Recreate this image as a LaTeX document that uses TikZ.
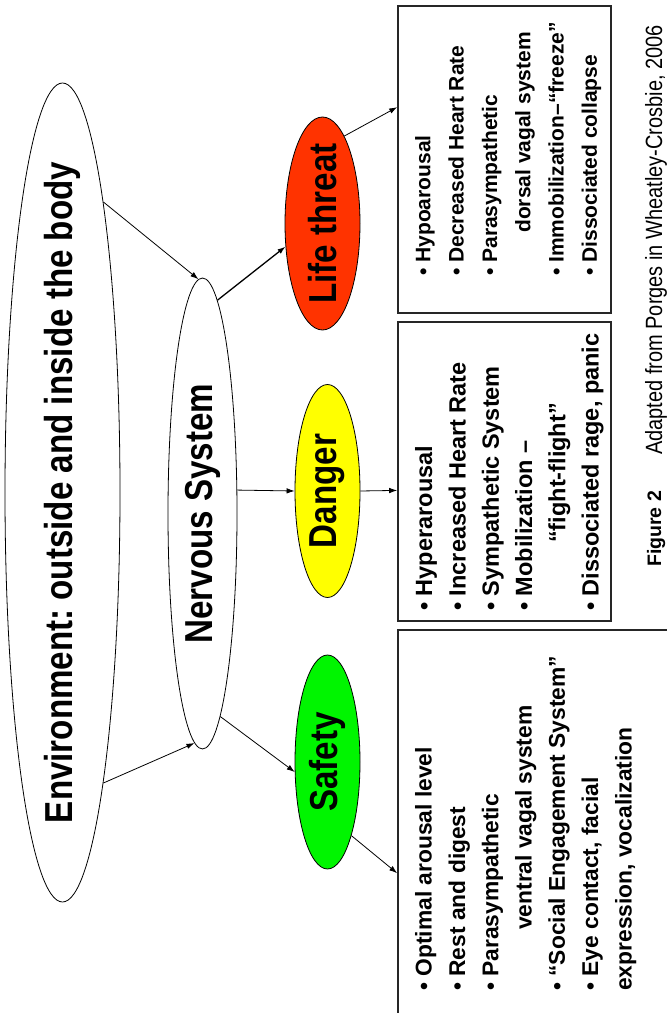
\documentclass[tikz,border=0pt]{standalone}
\usepackage{fontspec}
\setmainfont{Liberation Sans}
\newfontfamily\narrowfont{Liberation Sans}[FakeStretch=0.85]
\usetikzlibrary{shapes.geometric,arrows.meta}
\frenchspacing

\definecolor{threatred}{RGB}{255,51,0}
\definecolor{dangeryellow}{RGB}{255,255,0}
\definecolor{safegreen}{RGB}{0,245,0}

\tikzset{
  blob/.style={ellipse, draw, line width=0.8pt, inner xsep=-80pt, inner ysep=0pt,
    font=\narrowfont\bfseries\fontsize{39}{40}\selectfont},
  panel/.style={rectangle, draw=black!85, line width=1.6pt},
  list/.style={anchor=north west, inner sep=0pt, align=left,
    font=\bfseries\fontsize{#1}{33.3}\selectfont},
  arr/.style={-{Latex[length=8pt,width=5.5pt]}, line width=0.8pt},
}

\begin{document}
\begin{tikzpicture}[x=1pt,y=1pt]
\begin{scope}[rotate=90,transform shape]
  \useasboundingbox (0,-667) rectangle (1013,0);
  \clip (0,-667) rectangle (1013,0);

  % Nodes

  \node[blob,minimum width=819pt,minimum height=115pt] (env) at (520.5,-62.5) {Environment: outside and inside the body};
  \node[blob,minimum width=471pt,minimum height=69pt] (nerv) at (499.5,-202.5) {Nervous System};

  \node[blob,fill=threatred,minimum width=213pt,minimum height=75pt] (life) at (789.5,-322.5) {Life threat};
  \node[blob,fill=dangeryellow,minimum width=213pt,minimum height=65pt] (dang) at (522,-327.5) {Danger};
  \node[blob,fill=safegreen,minimum width=214pt,minimum height=65pt] (safe) at (251,-327.5) {Safety};

  % Boxes

  \node[panel,minimum width=307pt,minimum height=213pt] (life_box) at (853.5,-504.5) {};
  \node[panel,minimum width=299pt,minimum height=213pt] (dang_box) at (541.5,-504.5) {};
  \node[panel,minimum width=400pt,minimum height=300pt] (safe_box) at (183,-548) {};

  \node[list=21] (life_list) at (737,-415) {%
    \textbullet\ Hypoarousal\\
    \textbullet\ Decreased Heart Rate\\
    \textbullet\ Parasympathetic\\
    \hspace*{43pt}dorsal vagal system\\
    \textbullet\ Immobilization–“freeze”\\
    \textbullet\ Dissociated collapse};
  \node[list=23.5] (dang_list) at (402,-415) {%
    \textbullet\ Hyperarousal\\
    \textbullet\ Increased Heart Rate\\
    \textbullet\ Sympathetic System\\
    \textbullet\ Mobilization –\\
    \hspace*{68pt}“fight-flight”\\
    \textbullet\ Dissociated rage, panic};
  \node[list=22.8] (safe_list) at (22,-415) {%
    \textbullet\ Optimal arousal level\\
    \textbullet\ Rest and digest\\
    \textbullet\ Parasympathetic\\
    \hspace*{61pt}ventral vagal system\\
    \textbullet\ “Social Engagement System”\\
    \textbullet\ Eye contact, facial\\
    expression, vocalization};

  % Caption

  \node[anchor=base west,inner sep=0pt,font=\bfseries\fontsize{19.5}{20}\selectfont] (fig_no) at (446,-661) {Figure 2};
  \node[anchor=base west,inner sep=0pt,font=\narrowfont\fontsize{23.5}{24}\selectfont] (fig_src) at (558,-662) {Adapted from Porges in Wheatley-Crosbie, 2006};

  % Edges

  \draw[arr] (env.-8.6) -- (nerv.1.9);
  \draw[arr] (env.-172.7) -- (nerv.178.6);
  \draw[arr,line width=1.3pt] (nerv.-4.2) -- (life.122);
  \draw[arr] (nerv.-56.8) -- (dang.north);
  \draw[arr] (nerv.-175.9) -- (safe.107.7);
  \draw[arr] (life.-14) -- (life_box.64.2);
  \draw[arr] (dang.south) -- (dang_box.100.4);
  \draw[arr] (safe.-162.5) -- (safe_box.106.7);
\end{scope}
\end{tikzpicture}
\end{document}
